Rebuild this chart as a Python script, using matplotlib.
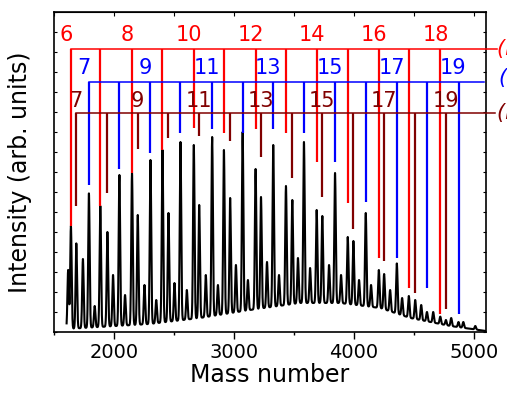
import numpy as np
import matplotlib
matplotlib.use("Agg")
import matplotlib.pyplot as plt
from matplotlib.ticker import MultipleLocator, NullFormatter

plt.rcParams['font.family'] = ['DejaVu Sans']

# ---- comb series (mass position, lower end of marker line) ----
red_n = [6, 7, 8, 9, 10, 11, 12, 13, 14, 15, 16, 17, 18]
red_mass = [1641, 1886, 2150, 2404, 2665, 2916, 3180, 3433, 3689, 3948, 4207, 4457, 4719]
red_end = [5.32, 6.3, 7.95, 9.1, 10.2, 9.95, 10.15, 9.95, 8.5, 6.47, 3.72, 2.19, 0.89]
red_level = 14.15

blue_n = [7, 8, 9, 10, 11, 12, 13, 14, 15, 16, 17, 18, 19]
blue_mass = [1791, 2045, 2304, 2554, 2818, 3072, 3327, 3583, 3842, 4098, 4357, 4608, 4871]
blue_end = [7.35, 8.15, 8.93, 9.93, 10.15, 9.97, 10.15, 9.93, 8.52, 6.49, 3.72, 2.22, 0.89]
blue_level = 12.5

dred_n = [7, 8, 9, 10, 11, 12, 13, 14, 15, 16, 17, 18, 19]
dred_mass = [1686, 1945, 2198, 2454, 2710, 2968, 3225, 3486, 3736, 3995, 4251, 4510, 4766]
dred_end = [6.3, 6.97, 9.14, 9.69, 9.8, 9.55, 8.74, 7.72, 6.74, 5.14, 3.55, 1.94, 1.14]
dred_level = 10.95

# ---- spectrum peak tops ----
red_peak = [5.3, 6.3, 7.95, 9.1, 9.35, 9.1, 8.15, 7.3, 6.1, 4.75, 3.1, 1.8, 0.77]
blue_peak = [6.93, 7.85, 8.6, 9.5, 9.75, 10.0, 9.35, 9.5, 7.95, 5.95, 3.43, 1.0, 0.5]
dred_peak = [4.43, 5.0, 5.85, 5.95, 6.35, 6.7, 6.75, 6.6, 5.8, 4.55, 2.9, 1.6, 0.6]

minor_mass = [1618, 1741, 1839, 1992, 2092, 2254, 2352, 2504, 2607, 2765, 2866, 3016, 3116,
              3275, 3375, 3533, 3634, 3792, 3892, 4042, 4142, 4301, 4401, 4560, 4660, 4810,
              4911, 5011]
minor_peak = [3.1, 3.65, 1.3, 2.85, 1.85, 2.35, 1.6, 2.45, 2.1, 2.85, 2.35, 3.35, 2.6,
              3.5, 2.85, 3.7, 3.2, 3.35, 2.85, 2.6, 2.35, 2.1, 1.7, 1.35, 1.0, 0.7,
              0.5, 0.3]

base_mass = [1605, 1880, 2298, 2716, 3133, 3550, 3884, 4218, 4469, 4803, 5100]
base_val = [0.15, 0.25, 0.4, 0.7, 1.1, 1.45, 1.45, 1.2, 0.7, 0.3, 0.05]

# ---- build trace ----
x = np.arange(1605, 5101, 1.0)
base = np.interp(x, base_mass, base_val)
y = base.copy()
pk_m = np.array(red_mass + blue_mass + dred_mass + minor_mass, float)
pk_h = np.array(red_peak + blue_peak + dred_peak + minor_peak, float)
pk_a = np.clip(pk_h - np.interp(pk_m, base_mass, base_val), 0, None)
sig = 6.0
for m, a in zip(pk_m, pk_a):
    y += a * np.exp(-0.5 * ((x - m) / sig) ** 2)

fig = plt.figure(figsize=(5.07, 3.99), dpi=100)
ax = fig.add_axes([54/507, 1-332/399, (486-54)/507, (332-12)/399])
ax.plot(x, y, color='black', lw=1.5, zorder=2)

ax.set_xlim(1500, 5100)
ax.set_ylim(0, 16)

lw_v = 1.6
lw_h = 1.1
for mass, end, col, lev in ((red_mass, red_end, '#ff0000', red_level),
                            (blue_mass, blue_end, '#0000ff', blue_level),
                            (dred_mass, dred_end, '#800000', dred_level)):
    ax.vlines(mass, end, lev, colors=col, lw=lw_v, zorder=3)

ax.plot([red_mass[0], 5194], [red_level]*2, color='#ff0000', lw=lw_h, clip_on=False, zorder=3)
ax.plot([blue_mass[0], 5086], [blue_level]*2, color='#0000ff', lw=lw_h, clip_on=False, zorder=3)
ax.plot([dred_mass[0], 5178], [dred_level]*2, color='#800000', lw=lw_h, clip_on=False, zorder=3)

fs = 15
for n, m in zip(red_n, red_mass):
    if n % 2 == 0:
        ax.text(m - 40, 14.86, str(n), color='#ff0000', fontsize=fs, ha='center', va='center', zorder=4)
for n, m in zip(blue_n, blue_mass):
    if n % 2 == 1:
        ax.text(m - 45, 13.2, str(n), color='#0000ff', fontsize=fs, ha='center', va='center', zorder=4)
for n, m in zip(dred_n, dred_mass):
    if n % 2 == 1:
        ax.text(m, 11.55, str(n), color='#800000', fontsize=fs, ha='center', va='center', zorder=4)

ax.text(5195, red_level, '(n, 0)', color='#ff0000', fontsize=fs, style='italic', ha='left', va='center', clip_on=False)
ax.text(5212, blue_level + 0.2, '(n, 1)', color='#0000ff', fontsize=fs, style='italic', ha='left', va='center', clip_on=False)
ax.text(5195, dred_level, '(n, 2)', color='#800000', fontsize=fs, style='italic', ha='left', va='center', clip_on=False)

ax.xaxis.set_major_locator(MultipleLocator(1000))
ax.xaxis.set_minor_locator(MultipleLocator(500))
ax.yaxis.set_major_locator(MultipleLocator(1))
ax.yaxis.set_major_formatter(NullFormatter())
ax.tick_params(axis='x', which='major', direction='out', length=5, width=1, labelsize=14, pad=3, top=False)
ax.tick_params(axis='x', which='minor', direction='out', length=2.5, width=1, top=False)
ax.tick_params(axis='y', which='major', direction='in', length=2.5, width=0.8, left=True, right=True)

sec = ax.secondary_xaxis('top')
sec.xaxis.set_major_locator(MultipleLocator(1000))
sec.xaxis.set_minor_locator(MultipleLocator(500))
sec.tick_params(axis='x', which='both', direction='in', length=3, width=0.8, labeltop=False)

for s in ax.spines.values():
    s.set_linewidth(1.2)

ax.set_xlabel('Mass number', fontsize=17, labelpad=1)
ax.set_ylabel('Intensity (arb. units)', fontsize=17, labelpad=12)

fig.savefig('out.png', dpi=100)
